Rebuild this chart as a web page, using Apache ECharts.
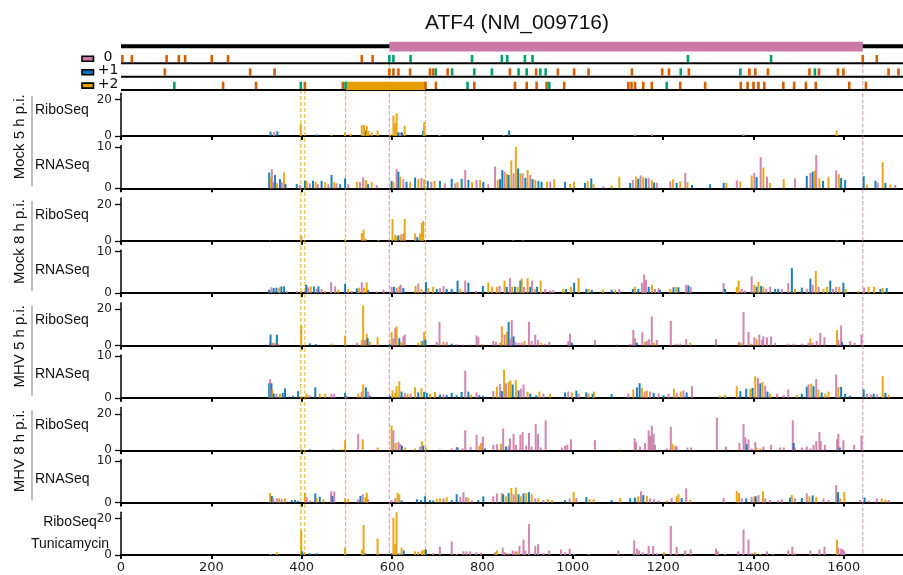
<!DOCTYPE html>
<html>
<head>
<meta charset="utf-8">
<title>ATF4 (NM_009716)</title>
<script src="https://cdn.jsdelivr.net/npm/echarts@6.0.0/dist/echarts.min.js"></script>
<style>
  html, body { margin: 0; padding: 0; background: #fff; }
  #main { width: 903px; height: 575px; }
</style>
</head>
<body>
<div id="main"></div>
<script>
// transcript length shown on the x axis
var xMax = 1731;
var xTicks = [0, 200, 400, 600, 800, 1000, 1200, 1400, 1600];

// frame colours: 0 = pink, +1 = blue, +2 = orange
var frameColors = ['#CC79A7', '#0072B2', '#E69F00'];
var startColor = '#009E73';
var stopColor = '#D55E00';

// ORF map: codon positions per frame
var frame0Stops = [3, 24, 101, 128, 142, 201, 237, 533, 557, 1642, 1673];
var frame0Starts = [594, 603, 641, 777, 843, 855, 894, 911, 1255, 1439];
var frame1Stops = [97, 286, 340, 594, 603, 614, 640, 684, 691, 723, 861, 919, 967, 1003, 1035, 1131,
  1198, 1213, 1257, 1391, 1404, 1432, 1524, 1545, 1587, 1599, 1699, 1721];
var frame1Starts = [697, 733, 782, 821, 880, 898, 928, 940, 1239, 1371, 1536];
var frame2Stops = [226, 299, 407, 491, 674, 697, 782, 872, 898, 920, 942, 981, 1123, 1130, 1138, 1156,
  1175, 1238, 1293, 1372, 1387, 1400, 1411, 1424, 1466, 1490, 1516, 1538, 1612, 1649];
var frame2Starts = [118, 398, 497, 767, 948, 1208];
var cdsRange = [594, 1642];
var uorf2Range = [497, 674];
var uorfEdges = [398, 407, 497, 674];
var cdsEdges = [594, 1642];

// read counts: [position, count, frame]
var mock5Ribo = [[331,2.4,1],[339,2.2,0],[346,2.6,1],[398,6.5,2],[433,0.8,1],[466,0.5,2],[496,2,2],[508,1,2],
  [533,6,2],[538,6,2],[542,3,1],[544,5.5,2],[548,2.8,2],[555,2,2],[568,3,2],[596,1,2],[603,11.3,2],[607,7,2],
  [610,12.5,2],[614,2,1],[618,2,0],[622,2,1],[628,5.5,2],[669,3,1],[671,7.6,2],[705,0.5,0],[847,0.5,0],
  [859,3.1,1],[1138,0.8,0],[1175,1,0],[1378,1,0],[1584,3,2]];

var mock5Rna = [[328,3.8,1],[331,2.6,2],[334,4.6,0],[337,1.5,0],[341,3.2,1],[345,1.2,2],[352,2.2,1],[356,1.5,0],
  [361,3.8,2],[364,1,1],[389,1,1],[396,0.8,0],[407,1.8,1],[411,1.8,2],[418,1.2,0],[425,1.8,1],[431,1.5,2],
  [436,1,0],[444,1.8,1],[452,1.5,2],[459,1,0],[466,3.2,1],[472,1.5,2],[477,1.2,0],[485,1,1],[496,2.4,1],
  [503,1,0],[522,1.6,2],[529,1.5,0],[536,2.6,0],[542,2,2],[547,1,1],[555,1.5,2],[566,0.8,0],[599,1.8,1],
  [603,1.5,2],[610,4.6,0],[614,4,1],[618,2.8,2],[625,2.2,0],[632,1.6,1],[640,1.5,2],[651,2.6,1],[658,2.2,2],
  [665,2.5,0],[671,2.2,2],[679,1.8,1],[687,1.6,0],[694,1.8,2],[706,1.8,1],[717,1.2,0],
  [732,2.3,1],[740,1.2,0],[745,1.5,2],[754,2.3,1],[762,4.4,0],[769,2,1],[777,1.5,2],[787,2,0],[795,2,2],
  [802,1.5,1],[813,1,0],[828,5.2,0],[834,2,2],[839,2.2,1],[844,4.4,1],[849,4,0],[854,3.5,2],[858,3.2,1],
  [864,6.7,2],[869,3.6,0],[874,10,2],[879,4.8,1],[884,3.6,2],[889,3.6,0],[895,2.5,1],[900,4.4,2],[906,3.2,0],
  [911,2.2,1],[917,2,2],[924,1.8,1],[931,1.6,1],[943,1.6,2],[950,1.6,0],[959,2.2,2],[983,1.6,1],[994,1,2],
  [1003,1.6,2],[1027,1.3,1],[1033,1.8,2],[1041,2.4,1],[1046,1,2],[1068,0.5,0],[1086,0.7,2],[1103,2.8,2],
  [1127,1.3,1],[1133,2,0],[1140,2.8,2],[1145,2.3,1],[1150,3.1,0],[1156,2.7,2],[1162,2.4,1],[1168,2.5,0],
  [1175,2,2],[1180,1.4,1],[1186,1.3,0],[1216,1.7,0],[1222,2.2,2],[1230,1.3,1],[1238,1.7,2],[1249,3.7,0],
  [1254,1.5,2],[1264,0.8,1],[1304,1,1],[1334,1.3,1],[1340,1.3,2],[1363,1.9,0],[1371,1.6,2],[1396,3.1,2],
  [1402,3.7,0],[1407,2.7,1],[1416,7.5,0],[1422,5,2],[1430,2.8,0],[1437,1.3,2],[1467,2.2,2],[1492,2.4,0],
  [1518,3,1],[1526,3.7,0],[1531,4,1],[1536,4.3,2],[1539,8,0],[1546,2.4,2],[1554,1.8,1],[1566,2.8,2],
  [1583,4.3,0],[1589,3.4,2],[1594,2.5,1],[1603,2,1],[1644,2.9,1],[1651,0.9,2],[1670,1.8,1],[1675,1.4,0],
  [1686,6.3,2],[1692,1.3,1],[1703,0.9,2],[1714,0.8,0]];

var mock8Ribo = [[330,0.3,1],[399,2.8,2],[496,0.8,2],[533,4.3,2],[537,6.1,2],[541,1,2],[570,0.5,2],[601,12,2],
  [607,3.3,2],[610,2.5,2],[614,3,1],[620,3.5,2],[625,4,0],[628,12,2],[651,4,2],[656,2,1],[662,4,2],[666,9.8,2],
  [669,11,2],[868,0.3,0],[890,0.3,0],[1585,0.3,2]];

var mock8Rna = [[328,0.8,1],[333,1.4,0],[338,1.2,1],[344,1.3,1],[350,1.3,2],[355,1.6,1],[361,1.6,1],[367,0.5,0],
  [390,0.5,0],[398,0.5,2],[410,2,1],[414,1.4,0],[420,1.6,2],[427,1.6,1],[433,1,0],[437,1.6,1],[444,1,0],
  [452,0.5,2],[465,2.6,0],[474,1.6,0],[481,0.8,2],[496,2.2,1],[503,1,2],[511,0.5,0],[522,1.1,1],[527,1.3,2],
  [533,2.6,0],[538,1.3,2],[544,2.6,2],[547,0.7,1],[566,0.4,0],[581,0.8,0],[599,1.5,0],[604,1.5,1],[610,1.3,0],
  [616,1.6,2],[619,2,0],[625,1.2,1],[652,1.7,2],[658,2.3,0],[665,1,2],[675,2.6,1],[680,1.2,2],[691,1.5,2],
  [699,1,1],[706,1.2,0],[714,1.7,0],[721,1,1],
  [732,1,1],[745,3,1],[751,1,2],[762,3,0],[769,2.5,1],[786,0.5,0],[801,1.7,1],[813,2.5,2],[821,1.5,2],
  [832,1.5,2],[838,1.7,0],[849,3,2],[854,1.5,1],[861,3.6,0],[866,1.5,2],[872,1.5,1],[878,1.5,2],[884,3,1],
  [887,3.5,2],[892,1.5,0],[900,3.6,2],[906,1.5,1],[910,3,0],[917,1,2],[921,1.5,1],[929,3,2],[939,1,0],
  [950,0.7,0],[957,0.7,0],[979,1,2],[985,1,1],[996,1.5,2],[1003,2.5,1],[1013,3.6,2],[1030,1,1],[1035,1,2],
  [1042,0.8,1],[1067,0.8,2],[1086,0.8,1],[1094,0.8,2],[1103,1,0],[1133,1,1],[1138,1.5,2],[1145,1,1],
  [1153,2.5,0],[1158,4.5,0],[1162,3.2,0],[1168,1.5,1],[1175,2,2],[1182,1,0],[1190,1.2,0],[1193,0.8,1],
  [1216,1,2],[1223,1.4,1],[1229,1.5,2],[1234,1.4,1],[1251,2,0],[1256,1.8,1],[1261,1.5,0],[1334,2.4,0],
  [1337,1,1],[1363,1.5,2],[1367,3,2],[1374,1,0],[1381,0.6,0],[1396,4,0],[1402,2,2],[1407,1.5,1],[1411,2.7,2],
  [1417,1.7,1],[1422,1.5,2],[1428,1,0],[1437,1.5,0],[1448,1,1],[1455,1,1],[1463,1,0],[1477,2.4,0],[1485,6,1],
  [1492,1,2],[1507,1.3,1],[1518,1,0],[1526,3.5,1],[1531,2,0],[1538,5.3,2],[1544,1.5,0],[1555,1,2],[1563,1.5,2],
  [1570,3,1],[1576,1,0],[1583,1.5,0],[1590,1.5,2],[1599,2.5,1],[1604,1,2],[1632,0.5,2],[1645,1.3,0],
  [1655,1.5,2],[1667,1.5,2],[1681,1,1],[1686,1.2,2],[1695,1.2,1]];

var mhv5Ribo = [[330,1.5,0],[331,6,1],[336,1.5,0],[340,1.5,2],[345,6,1],[348,1,0],[399,11,2],[418,1.2,1],
  [431,0.8,1],[466,1,2],[496,5.5,2],[522,1.5,0],[533,3,2],[536,22,2],[540,3,0],[544,6.5,2],[546,4,1],[551,2,2],
  [568,4.5,2],[595,1,1],[599,7.5,2],[603,4,0],[607,9.5,0],[610,10.5,2],[616,4,1],[620,2,2],[625,5,0],[628,6,0],
  [658,1.5,2],[665,2.5,2],[669,2.5,1],[671,7.5,2],[674,3.2,1],[699,2,0],[705,13,0],[714,2,2],[721,2,0],
  [732,1,1],[743,0.7,0],[758,0.5,0],[773,0.5,0],[787,5.5,0],[791,4.5,0],[799,0.7,2],[824,2.5,0],[830,2,0],
  [839,1.5,2],[843,10.5,2],[849,6,0],[854,7.5,2],[858,13,1],[861,4,0],[865,14,0],[869,5,1],[873,2,0],
  [880,1.5,0],[887,1.5,0],[893,2.5,2],[903,13,0],[909,2.5,0],[917,6,0],[923,3,0],[930,1.5,2],[939,1,0],
  [948,2,0],[990,2.5,0],[994,6.5,0],[998,1.5,1],[1049,3,0],[1097,0.5,0],[1127,1,0],[1134,8.5,0],[1138,4,0],
  [1142,1.5,1],[1154,7.3,0],[1160,2,2],[1164,2.5,0],[1169,3.5,0],[1175,16,0],[1180,1.5,2],[1186,3,0],
  [1217,13.5,0],[1230,1,0],[1238,1,0],[1251,3.5,0],[1260,1.5,2],[1317,3.5,0],[1368,2,0],[1373,1.5,2],
  [1378,18.5,0],[1389,7.5,0],[1395,1,2],[1402,4.5,0],[1407,3.5,2],[1413,6,0],[1419,3,0],[1422,5,0],[1430,4.5,0],
  [1439,5,0],[1448,1.5,0],[1477,1,0],[1489,1,0],[1507,1,0],[1522,1.5,0],[1526,4,2],[1531,1.5,0],[1540,2.5,0],
  [1548,7,0],[1557,4.5,0],[1585,8.5,2],[1588,3,0],[1594,11,0],[1596,2,1],[1614,2.5,0],[1624,1.5,0],[1639,6,0]];

var mhv5Rna = [[328,3.5,1],[330,4.5,0],[333,3.5,1],[335,2,2],[338,1,1],[344,1,0],[352,1,2],[358,1.2,1],[363,2.3,1],
  [381,0.5,1],[392,1.6,1],[399,0.5,2],[411,1,2],[417,0.6,0],[430,2.5,1],[440,1,2],[452,1,2],[466,1,0],[472,1,0],
  [496,1.2,1],[500,0.5,0],[525,1,2],[533,1.5,0],[536,3.2,2],[542,2.5,1],[547,1.5,0],[551,0.5,1],[595,0.5,1],
  [601,1.8,2],[607,1.2,2],[610,2.8,2],[616,4,2],[621,1.5,1],[628,1.2,0],[634,1,2],[641,1,0],[651,2.5,2],
  [658,1.3,1],[665,2.3,2],[671,1.4,1],[677,1.2,1],[684,1,2],[695,1.4,2],[706,0.8,1],[714,0.8,0],[721,0.7,1],
  [732,1.2,1],[743,0.6,1],[754,1.4,1],[762,6.5,0],[769,1.5,1],[775,0.8,2],[787,1.3,0],[793,0.6,1],[801,0.5,1],
  [824,1.6,0],[832,2.7,2],[839,3.3,0],[843,1.6,1],[848,6.8,2],[852,3.5,0],[858,3.8,2],[862,4.2,2],[867,3.2,1],
  [874,4.3,2],[880,1.8,1],[885,2.2,0],[891,3.2,0],[900,1.5,2],[906,1,1],[919,0.6,1],[926,1.5,2],[935,1,0],
  [950,1,2],[983,1.3,1],[990,1.5,0],[998,1.3,2],[1008,1.7,1],[1013,1,0],[1030,1.3,1],[1035,1,2],[1044,1,1],
  [1047,1.5,2],[1086,0.9,1],[1123,1,0],[1134,2,2],[1142,2.5,1],[1148,3.5,1],[1153,2.4,2],[1159,1.5,0],
  [1164,1.7,2],[1171,1.5,0],[1179,1.2,1],[1190,1.1,0],[1201,0.6,1],[1212,1,0],[1224,2.2,2],[1230,1.2,0],
  [1239,1.5,2],[1245,1.8,0],[1252,1.3,1],[1264,2.8,0],[1326,0.5,2],[1337,0.7,2],[1363,2.8,2],[1371,1.6,1],
  [1384,2.2,1],[1393,2.2,2],[1398,2.4,1],[1404,5.2,2],[1410,4.8,0],[1415,3.5,1],[1420,3.8,2],[1426,2.9,0],
  [1431,1.5,1],[1437,1,2],[1452,1,0],[1467,0.7,0],[1477,2,0],[1496,0.7,2],[1507,1,1],[1518,2.7,1],[1522,3.2,0],
  [1528,3.4,2],[1533,2.8,1],[1539,4.5,0],[1544,2,2],[1551,1.3,1],[1559,1,2],[1566,1.5,2],[1583,5.6,0],
  [1588,2.6,2],[1594,2.6,1],[1603,1,1],[1614,0.5,1],[1644,2,1],[1651,1,0],[1660,0.8,0],[1666,1,1],[1673,0.8,0],
  [1686,5.2,2],[1692,1.2,1],[1699,0.8,2]];

var mhv8Ribo = [[399,0.8,2],[418,0.5,1],[470,0.6,0],[489,0.6,2],[496,5.5,2],[525,9,0],[535,6,2],[568,1.5,2],
  [599,13.5,2],[603,11,0],[608,4,2],[614,4.5,0],[618,3.5,0],[622,2.5,1],[629,1.5,2],[651,1,2],[662,2,0],
  [666,5,2],[669,2.5,1],[675,1.5,2],[706,0.5,0],
  [732,1,0],[743,1.8,0],[745,1.5,1],[756,1,0],[762,11,0],[774,1.7,0],[787,8.5,0],[793,2.5,2],[797,4,2],
  [801,7.5,0],[806,1,1],[824,3,0],[832,3.3,0],[841,3.5,2],[846,12,0],[852,2,1],[858,2.5,0],[861,6.5,0],
  [869,9,0],[874,3,0],[884,8.5,0],[889,10,0],[897,2.5,0],[903,9.5,0],[909,2,0],[918,14.5,0],[923,9,0],
  [929,1.5,0],[940,16.5,0],[976,1.5,0],[983,2.5,0],[988,3,0],[996,6,0],[1049,5.5,0],[1105,0.5,2],[1137,6.5,0],
  [1140,4.5,0],[1149,2,0],[1160,4,0],[1168,11,0],[1171,8,0],[1175,13.5,0],[1179,9,0],[1182,3,0],[1208,1,0],
  [1217,13,0],[1221,3.5,2],[1227,2.5,0],[1230,2,0],[1254,1.5,0],[1262,1.5,0],[1319,18,0],[1339,2,0],
  [1369,4,0],[1378,14.5,0],[1382,7,0],[1385,3.3,1],[1389,6,0],[1396,1,0],[1404,4.5,0],[1407,1.5,2],
  [1415,1,2],[1422,2,0],[1439,3,0],[1459,1.5,0],[1467,1.5,0],[1487,16.5,0],[1489,4,1],[1492,1.5,0],
  [1507,1.5,0],[1518,2,0],[1526,1,0],[1533,3,0],[1539,5,0],[1546,10,0],[1549,5,0],[1558,3,0],[1585,6,0],
  [1588,9,0],[1591,1.5,1],[1599,5.5,0],[1623,3,0],[1639,8,0]];

var mhv8Rna = [[330,2.3,2],[334,1.6,1],[337,1,0],[345,1,0],[350,1,2],[356,0.8,0],[363,1,2],[378,0.6,1],[385,0.6,1],
  [392,0.4,1],[407,2.3,2],[411,1.3,0],[418,0.5,0],[430,2.2,1],[433,1.1,2],[440,1.4,1],[448,0.8,2],[465,2.7,0],
  [468,1.6,1],[472,2.7,0],[496,1,2],[503,0.8,2],[525,0.8,0],[530,1.6,1],[535,2,0],[541,1.3,2],[544,2.3,2],
  [547,0.8,0],[599,0.6,0],[607,1,0],[612,2.3,2],[616,2,2],[621,0.5,1],[655,0.8,1],[664,0.6,1],[673,1.5,1],
  [684,0.6,1],[691,0.5,1],[699,0.9,2],[706,1,2],[714,1,0],[721,1.3,2],
  [732,0.6,1],[743,2,1],[751,1.4,0],[758,2.5,0],[764,1.3,0],[769,1.1,2],[777,0.5,0],[791,0.6,1],[802,1.5,1],
  [824,1.5,0],[832,2.2,0],[843,2.3,2],[846,2,1],[852,1.5,2],[858,2.3,1],[864,3.5,2],[869,2,0],[874,3.6,2],
  [880,2,1],[885,1.5,2],[891,2.2,1],[897,2.3,2],[903,2.5,1],[909,2,2],[917,1,0],[924,1,2],[935,0.6,0],
  [945,0.8,2],[954,0.6,2],[983,0.6,1],[993,1,0],[1002,2.6,2],[1008,1.1,0],[1030,1.3,1],[1037,0.8,2],
  [1046,0.8,2],[1086,0.6,1],[1105,1.1,2],[1127,1,1],[1138,1.2,1],[1145,1.5,2],[1151,2.7,0],[1156,1.8,1],
  [1164,1.6,2],[1171,1,0],[1180,0.8,0],[1190,0.5,0],[1208,0.5,2],[1219,1,0],[1230,1.5,2],[1234,2,2],
  [1241,1.1,1],[1251,3.4,0],[1260,0.7,2],[1334,1.1,0],[1363,2.8,2],[1368,2.3,2],[1374,1,0],[1384,1,1],
  [1396,1.3,0],[1402,1.5,2],[1405,1.5,1],[1411,1.8,0],[1421,2.7,2],[1426,1,0],[1437,0.6,0],[1455,0.5,0],
  [1463,0.8,0],[1481,1.2,1],[1485,1.8,2],[1492,1,0],[1507,1.1,1],[1518,2.2,0],[1524,1.5,2],[1531,1.7,1],
  [1539,1.4,2],[1555,1,0],[1566,0.6,0],[1583,4.2,0],[1587,2.5,1],[1592,1,2],[1601,2.5,2],[1636,0.6,0],
  [1646,1.2,1],[1655,0.5,0],[1673,1,0],[1684,1,2],[1692,0.7,2],[1699,0.6,0]];

var tuniRibo = [[331,0.5,0],[345,1.5,2],[399,13.5,2],[401,2,1],[406,1.5,2],[418,1,1],[433,1,1],[496,4,2],
  [533,3,2],[537,16.5,2],[541,1,1],[568,9,2],[599,1,1],[603,20.5,2],[607,6,2],[610,23.5,2],[616,1,0],[621,4,2],
  [626,2.5,1],[651,2,2],[658,1.8,2],[666,2.5,2],[671,3,2],[675,3,1],[691,1,0],[706,4.5,0],
  [732,7.5,0],[743,0.5,0],[758,2,0],[765,2,0],[773,2,0],[787,1.5,0],[797,1.3,0],[828,1.5,0],[832,2.5,2],
  [845,4,0],[850,1.5,0],[858,1,0],[867,2.5,0],[873,2,0],[876,2,2],[882,5,0],[891,8.5,0],[895,2.5,0],
  [903,17,0],[917,5,0],[923,6,0],[935,1,0],[948,2.5,0],[974,3,0],[983,1.5,0],[993,3.5,0],[1003,0.5,0],
  [1035,0.5,0],[1101,2.5,0],[1136,8,0],[1142,3.5,0],[1147,2.5,0],[1155,1.5,0],[1168,5,0],[1178,5,0],
  [1186,1,0],[1202,1.5,2],[1217,16,0],[1230,4.5,0],[1249,2.5,0],[1261,3,0],[1317,3.5,0],[1321,2,0],
  [1337,0.5,0],[1366,2,0],[1378,14,0],[1389,8.5,0],[1396,1,0],[1404,1.5,2],[1415,0.5,0],[1430,2,0],
  [1443,0.5,0],[1477,2.5,0],[1486,4.5,0],[1492,1,0],[1526,2.5,0],[1546,3,0],[1557,4.5,0],[1585,8.5,2],
  [1588,4,0],[1594,3.5,0],[1598,3,0],[1601,2,0]];

var groupLabels = ['Mock 5 h p.i.', 'Mock 8 h p.i.', 'MHV 5 h p.i.', 'MHV 8 h p.i.'];
var frameLabels = ['0', '+1', '+2'];

// ---- layout ----
var plotLeft = 121, plotWidth = 782;
var riboMax = 23.6, rnaMax = 10.3;
var pairStep = 104.75;
var panels = [];
var riboData = [mock5Ribo, mock8Ribo, mhv5Ribo, mhv8Ribo, tuniRibo];
var rnaData = [mock5Rna, mock8Rna, mhv5Rna, mhv8Rna];
for (var k = 0; k < 5; k++) {
  var rb = 136 + pairStep * k;
  panels.push({ data: riboData[k], max: riboMax, tick: 20, bottom: rb, height: riboMax * 1.815 });
  if (k < 4) {
    var nb = 188.3 + pairStep * k;
    panels.push({ data: rnaData[k], max: rnaMax, tick: 10, bottom: nb, height: rnaMax * 4.15 });
  }
}

function barItem(params, api) {
  var x = api.value(0), v = api.value(1), f = api.value(2);
  var base = api.coord([x, 0]);
  var top = api.coord([x, v]);
  return {
    type: 'rect',
    shape: { x: base[0] - 1, y: top[1], width: 2, height: base[1] - top[1] },
    style: { fill: frameColors[f], opacity: 0.9 }
  };
}

var grids = [], xAxes = [], yAxes = [], series = [];
panels.forEach(function (p, i) {
  var last = i === panels.length - 1;
  grids.push({ left: plotLeft, width: plotWidth, top: p.bottom - p.height, height: p.height });
  xAxes.push({
    gridIndex: i, type: 'value', min: 0, max: xMax,
    axisLine: { lineStyle: { color: '#000', width: 2.2 } },
    axisTick: { customValues: xTicks, length: 4, lineStyle: { color: '#000', width: 2 } },
    axisLabel: {
      show: last, customValues: xTicks, margin: 6, color: '#222', fontSize: 13, fontFamily: 'DejaVu Sans',
      formatter: function (v) { return String(v); }
    },
    splitLine: { show: false }
  });
  yAxes.push({
    gridIndex: i, type: 'value', min: 0, max: p.max,
    axisLine: { show: true, lineStyle: { color: '#000', width: 1.5 } },
    axisTick: { show: true, customValues: [0, p.tick], length: 6, lineStyle: { color: '#000', width: 1.3 } },
    axisLabel: { customValues: [0, p.tick], margin: 9, color: '#222', fontSize: 12, fontFamily: 'DejaVu Sans' },
    splitLine: { show: false }
  });
  series.push({
    type: 'custom', xAxisIndex: i, yAxisIndex: i, renderItem: barItem,
    encode: { x: 0, y: 1 }, data: p.data, z: 3, silent: true
  });
});

// ORF map grid, also used for the dashed guide lines running down through the panels
var mapIndex = panels.length;
var mapTop = 40.5, rowPx = 13.4;
var mapMin = -1.7, mapMax = mapMin + (555 - mapTop) / rowPx;
grids.push({ left: plotLeft, width: plotWidth, top: mapTop, height: 555 - mapTop });
xAxes.push({ gridIndex: mapIndex, type: 'value', min: 0, max: xMax, show: false });
yAxes.push({ gridIndex: mapIndex, type: 'value', min: mapMin, max: mapMax, inverse: true, show: false });

var codonTicks = [];
[[frame0Stops, frame0Starts], [frame1Stops, frame1Starts], [frame2Stops, frame2Starts]].forEach(function (fr, row) {
  fr[0].forEach(function (p) { codonTicks.push([p, row, 0]); });
  fr[1].forEach(function (p) { codonTicks.push([p, row, 1]); });
});

var trackRows = [[-1.28, 4], [0, 2], [1, 2], [2, 2]];
var orfBoxes = [[cdsRange[0], cdsRange[1], -1.61, -0.87, 0], [uorf2Range[0], uorf2Range[1], 1.38, 2, 2]];
var guides = [];
uorfEdges.forEach(function (p) { guides.push([p, 2, 2]); });
cdsEdges.forEach(function (p) { guides.push([p, 0, 0]); });

series.push({
  type: 'custom', xAxisIndex: mapIndex, yAxisIndex: mapIndex, silent: true, z: 1,
  data: guides, encode: { x: 0, y: 1 },
  renderItem: function (params, api) {
    var a = api.coord([api.value(0), api.value(1)]);
    var b = api.coord([api.value(0), mapMax]);
    return {
      type: 'line', shape: { x1: a[0], y1: a[1], x2: a[0], y2: b[1] },
      style: { stroke: frameColors[api.value(2)], lineWidth: 1.2, lineDash: [4, 2], opacity: 0.7 }
    };
  }
});
series.push({
  type: 'custom', xAxisIndex: mapIndex, yAxisIndex: mapIndex, silent: true, z: 2,
  data: trackRows, encode: { y: 0 },
  renderItem: function (params, api) {
    var a = api.coord([0, api.value(0)]);
    var b = api.coord([xMax, api.value(0)]);
    return {
      type: 'line', shape: { x1: a[0], y1: a[1], x2: b[0], y2: b[1] },
      style: { stroke: '#000', lineWidth: api.value(1) }
    };
  }
});
series.push({
  type: 'custom', xAxisIndex: mapIndex, yAxisIndex: mapIndex, silent: true, z: 4,
  data: orfBoxes, encode: { x: [0, 1], y: [2, 3] },
  renderItem: function (params, api) {
    var a = api.coord([api.value(0), api.value(2)]);
    var b = api.coord([api.value(1), api.value(3)]);
    return {
      type: 'rect', shape: { x: a[0], y: a[1], width: b[0] - a[0], height: b[1] - a[1] },
      style: { fill: frameColors[api.value(4)] }
    };
  }
});
series.push({
  type: 'custom', xAxisIndex: mapIndex, yAxisIndex: mapIndex, silent: true, z: 5,
  data: codonTicks, encode: { x: 0, y: 1 },
  renderItem: function (params, api) {
    var p = api.coord([api.value(0), api.value(1)]);
    var h = api.size([0, 0.62])[1];
    return {
      type: 'rect', shape: { x: p[0] - 1.3, y: p[1] - h, width: 2.6, height: h - 1 },
      style: { fill: api.value(2) ? startColor : stopColor }
    };
  }
});

// ---- text and legend ----
var labelFont = '14px "Liberation Sans", Arial, sans-serif';
var graphics = [];
frameLabels.forEach(function (t, r) {
  var cy = 63.3 + rowPx * r - 4.5;
  graphics.push({
    type: 'rect', shape: { x: 82, y: cy - 2.5, width: 11.5, height: 5 },
    style: { fill: frameColors[r], stroke: '#000', lineWidth: 1.6 }
  });
  graphics.push({
    type: 'text', x: 108, y: cy - 1.5,
    style: { text: t, font: '14px "DejaVu Sans", sans-serif', fill: '#111', align: 'center', verticalAlign: 'middle' }
  });
});
for (var g = 0; g < 4; g++) {
  var rbBottom = 136 + pairStep * g;
  var riboTop = rbBottom - riboMax * 1.815;
  var rnaBottom = 188.3 + pairStep * g;
  var rnaTop = rnaBottom - rnaMax * 4.15;
  graphics.push({
    type: 'text', x: 20, y: (riboTop + rnaBottom) / 2 - 4, rotation: Math.PI / 2,
    style: { text: groupLabels[g], font: '15px "Liberation Sans", Arial, sans-serif', fill: '#111', align: 'center', verticalAlign: 'middle' }
  });
  graphics.push({
    type: 'line', shape: { x1: 32, y1: riboTop + 3, x2: 32, y2: rnaBottom - 2 },
    style: { stroke: '#aaa', lineWidth: 1.5 }
  });
  graphics.push({
    type: 'text', x: 35, y: (riboTop + rbBottom) / 2 - 4,
    style: { text: 'RiboSeq', font: labelFont, fill: '#111', align: 'left', verticalAlign: 'middle' }
  });
  graphics.push({
    type: 'text', x: 35, y: (rnaTop + rnaBottom) / 2 - 2,
    style: { text: 'RNASeq', font: labelFont, fill: '#111', align: 'left', verticalAlign: 'middle' }
  });
}
graphics.push({
  type: 'text', x: 70, y: 522,
  style: { text: 'RiboSeq', font: labelFont, fill: '#111', align: 'center', verticalAlign: 'middle' }
});
graphics.push({
  type: 'text', x: 70, y: 544,
  style: { text: 'Tunicamycin', font: labelFont, fill: '#111', align: 'center', verticalAlign: 'middle' }
});

var chart = echarts.init(document.getElementById('main'));
chart.setOption({
  animation: false,
  backgroundColor: '#fff',
  title: {
    text: 'ATF4 (NM_009716)', left: 512, top: 8, textAlign: 'center',
    textStyle: { fontSize: 21, fontWeight: 'normal', color: '#111', fontFamily: 'Liberation Sans' }
  },
  grid: grids,
  xAxis: xAxes,
  yAxis: yAxes,
  series: series,
  graphic: { elements: graphics }
});
</script>
</body>
</html>
